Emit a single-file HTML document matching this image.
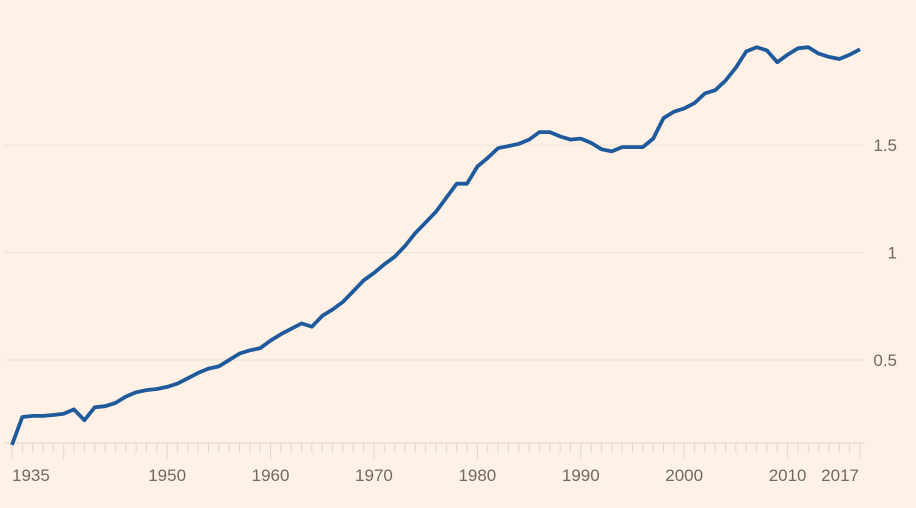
<!DOCTYPE html>
<html><head><meta charset="utf-8"><style>
html,body{margin:0;padding:0;background:#FFF1E5;}
svg{display:block;font-family:"Liberation Sans",sans-serif;}
</style></head><body>
<svg id="chart" width="916" height="508" viewBox="0 0 916 508" xmlns="http://www.w3.org/2000/svg">
<rect width="916" height="508" fill="#FFF1E5"/>
<g id="grid"></g>
<g id="yaxis"></g>
<g id="xaxis"></g>
<g id="series"></g>
</svg>
<script>
const years = [];
for (let y = 1935; y <= 2017; y++) years.push(y);
const values = [0.105,0.235,0.24,0.24,0.244,0.25,0.27,0.22,0.28,0.285,0.30,0.33,0.35,0.36,0.365,0.375,
0.39,0.415,0.44,0.46,0.47,0.50,0.53,0.545,0.555,0.59,0.62,0.645,0.67,0.655,0.705,0.735,0.77,0.82,0.87,0.905,
0.945,0.98,1.03,1.09,1.14,1.19,1.255,1.32,1.32,1.40,1.44,1.485,1.495,1.505,1.525,1.56,1.56,1.54,1.525,1.53,
1.51,1.48,1.47,1.49,1.49,1.49,1.53,1.625,1.655,1.67,1.695,1.74,1.755,1.80,1.86,1.935,1.955,1.94,1.885,1.92,
1.95,1.955,1.925,1.91,1.90,1.92,1.945];
const yTicks = [0.5, 1, 1.5];
const yTickLabels = ["0.5", "1", "1.5"];
const xLabelYears = [1935, 1950, 1960, 1970, 1980, 1990, 2000, 2010, 2017];

const NS = "http://www.w3.org/2000/svg";
const xs = yr => 12 + (yr - 1935) * (848 / 82);
const ys = v => 467.5 - 215 * v;
function mk(tag, attrs, parent) {
  const e = document.createElementNS(NS, tag);
  for (const k in attrs) e.setAttribute(k, attrs[k]);
  parent.appendChild(e);
  return e;
}
const grid = document.getElementById('grid'), yaxis = document.getElementById('yaxis'),
      xaxis = document.getElementById('xaxis'), series = document.getElementById('series');
yTicks.forEach((t, i) => {
  const l = mk('line', {x1: 5, x2: 865, y1: ys(t), y2: ys(t), stroke: '#EDE1D6', 'stroke-width': 1}, grid);
  
  
  const tx = mk('text', {x: 897, y: ys(t) + 6, 'text-anchor': 'end', 'font-size': 17, fill: '#6F6964'}, yaxis);
  tx.textContent = yTickLabels[i];
  
  
});
const ax = mk('line', {x1: 5, x2: 865, y1: 443, y2: 443, stroke: '#E3D6CB', 'stroke-width': 1}, xaxis);


years.forEach(yr => {
  const major = yr % 10 === 0 || yr === 1935 || yr === 2017;
  const t = mk('line', {x1: xs(yr), x2: xs(yr), y1: 443, y2: major ? 459 : 453, stroke: '#E3D6CB', 'stroke-width': 1}, xaxis);
  
  
});
xLabelYears.forEach((yr, i) => {
  let anchor = 'middle', x = xs(yr);
  if (i === 0) { anchor = 'start'; }
  if (yr === 2017) { anchor = 'end'; x = xs(yr) - 1; }
  const tx = mk('text', {x: x, y: 481, 'text-anchor': anchor, 'font-size': 17, fill: '#6F6964'}, xaxis);
  tx.textContent = yr;
  
  
});
const d = values.map((v, i) => (i ? 'L' : 'M') + xs(years[i]).toFixed(1) + ',' + ys(v).toFixed(1)).join(' ');
const p = mk('path', {d: d, fill: 'none', stroke: '#1E5A9C', 'stroke-width': 3.8, 'stroke-linejoin': 'round', 'stroke-linecap': 'butt'}, series);


</script>
</body></html>
